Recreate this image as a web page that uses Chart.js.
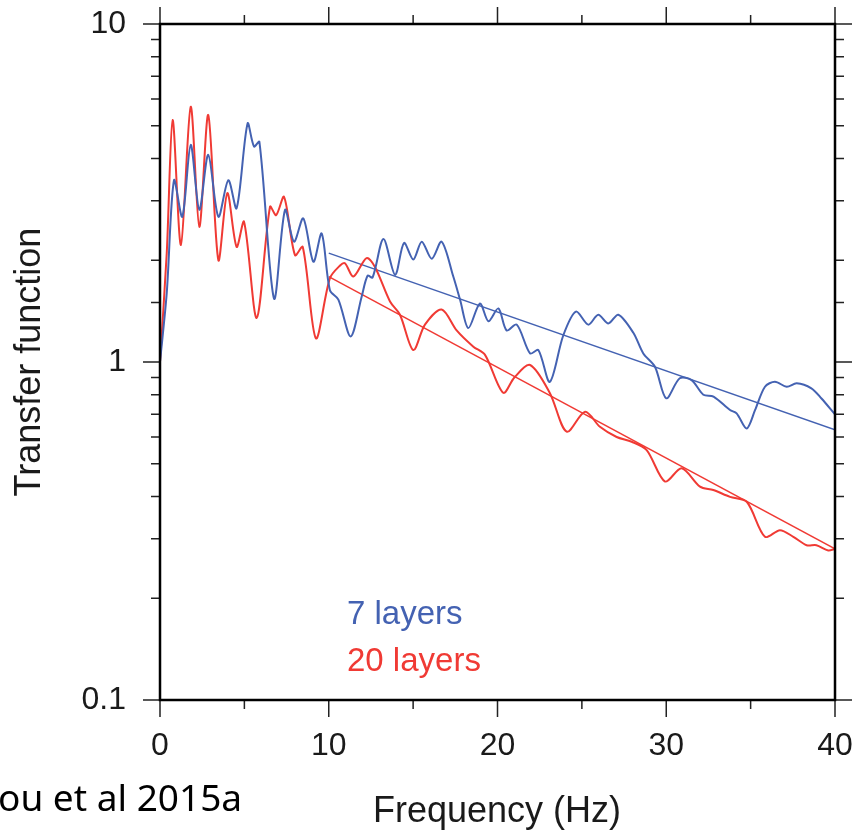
<!DOCTYPE html>
<html>
<head>
<meta charset="utf-8">
<script src="https://cdn.jsdelivr.net/npm/chart.js@4.4.0/dist/chart.umd.min.js"></script>
<style>
  body { margin: 0; background: #fff; }
  canvas { display: block; }
</style>
</head>
<body>
<canvas id="tfChart" width="852" height="836"></canvas>
<script>
// 7 layers model (blue)
var freq7 = [0, 0.4, 0.83, 1.32, 1.82, 2.33, 2.86, 3.46, 4.05, 4.54, 5.19, 5.57, 5.89, 6.76, 7.41, 7.94, 8.49, 9.09, 9.58,
    10.07, 10.57, 11.3, 11.95, 12.3, 12.6, 13.24, 13.93, 14.46, 15.01, 15.51, 16.1, 16.69, 17.38, 17.78, 18.27, 18.96,
    19.46, 20.05, 20.54, 21.14, 21.93, 22.42, 23.1, 23.9, 24.65, 25.38, 25.97, 26.57, 27.16, 28.05, 28.64, 29.33, 30.0,
    30.8, 31.5, 32.2, 32.8, 33.78, 34.17, 34.77, 35.26, 35.85, 36.44, 37.14, 37.73, 38.6, 39.2, 40];
var tf7 = [1.0, 1.6, 3.45, 2.69, 4.39, 2.82, 4.1, 2.69, 3.45, 2.85, 5.08, 4.34, 4.48, 1.54, 2.82, 2.27, 2.66, 1.98, 2.40,
    1.63, 1.53, 1.19, 1.56, 1.8, 1.78, 2.31, 1.81, 2.25, 2.01, 2.27, 2.02, 2.27, 1.79, 1.53, 1.26, 1.49,
    1.32, 1.44, 1.24, 1.29, 1.06, 1.085, 0.874, 1.2, 1.41, 1.29, 1.38, 1.30, 1.38, 1.22, 1.06, 0.968, 0.781,
    0.895, 0.884, 0.80, 0.79, 0.721, 0.705, 0.636, 0.72, 0.845, 0.874, 0.845, 0.865, 0.836, 0.78, 0.70];

// 20 layers model (red)
var freq20 = [0, 0.4, 0.75, 1.24, 1.82, 2.33, 2.86, 3.46, 3.99, 4.54, 4.98, 5.73, 6.52, 6.88, 7.35, 8.0, 8.46, 9.24,
    10.07, 10.67, 10.96, 11.46, 12.24, 12.74, 13.63, 14.22, 15.01, 15.7, 16.69, 17.58, 18.57, 19.26, 20.34, 21.0,
    21.93, 23.1, 24.1, 25.19, 26.07, 27.06, 27.95, 28.84, 29.93, 30.91, 32.0, 32.79, 33.78, 34.77, 35.85, 36.74,
    37.53, 38.32, 38.9, 39.6, 40];
var tf20 = [1.0, 2.1, 5.2, 2.22, 5.69, 2.51, 5.38, 2.0, 3.16, 2.19, 2.60, 1.35, 2.88, 2.72, 3.08, 2.07, 2.19, 1.175,
    1.77, 1.93, 1.96, 1.79, 2.03, 1.91, 1.51, 1.38, 1.085, 1.29, 1.43, 1.24, 1.11, 1.05, 0.811, 0.9,
    0.98, 0.81, 0.622, 0.713, 0.643, 0.60, 0.581, 0.549, 0.443, 0.485, 0.428, 0.418, 0.399, 0.386, 0.304, 0.318,
    0.304, 0.287, 0.287, 0.277, 0.28];

// straight-line fits (10-40 Hz)
var fitFreq = [10, 40];
var fit7 = [2.1, 0.63];
var fit20 = [1.79, 0.28];

// axis labels
var xLabels = [0, 10, 20, 30, 40];
var yLabels = [0.1, 1, 10];

var blue = 'rgb(68,98,178)';
var red = 'rgb(240,58,52)';
var helv = '"Liberation Sans", Arial, sans-serif';

function pts(xs, ys) {
    return xs.map(function(x, i){ return {x: x, y: ys[i]}; });
}

function isDecade(v) {
    var l = Math.log10(v);
    return Math.abs(l - Math.round(l)) < 1e-6;
}

// frame, outward ticks, tick labels, titles and legend text
var decor = {
    id: 'decor',
    afterDraw: function(chart) {
        var c = chart.ctx, a = chart.chartArea;
        var xs = chart.scales.x, ys = chart.scales.y;
        c.save();
        c.strokeStyle = '#222';
        c.lineWidth = 1.5;
        xs.ticks.forEach(function(t){
            var px = xs.getPixelForValue(t.value);
            var len = (t.value % 10 === 0) ? 17 : 9;
            c.beginPath();
            c.moveTo(px, a.bottom); c.lineTo(px, a.bottom + len);
            c.moveTo(px, a.top); c.lineTo(px, a.top - len);
            c.stroke();
        });
        ys.ticks.forEach(function(t){
            var py = ys.getPixelForValue(t.value);
            var len = isDecade(t.value) ? 17 : 9;
            c.beginPath();
            c.moveTo(a.left, py); c.lineTo(a.left - len, py);
            c.moveTo(a.right, py); c.lineTo(a.right + len, py);
            c.stroke();
        });
        c.strokeStyle = '#000';
        c.lineWidth = 2.5;
        c.strokeRect(a.left, a.top, a.right - a.left, a.bottom - a.top);

        c.fillStyle = '#1a1a1a';
        c.font = '32px ' + helv;
        c.textBaseline = 'middle';
        c.textAlign = 'center';
        xLabels.forEach(function(v){
            c.fillText(String(v), xs.getPixelForValue(v), 746);
        });
        c.textAlign = 'right';
        yLabels.forEach(function(v){
            c.fillText(String(v), 126, ys.getPixelForValue(v));
        });

        c.textAlign = 'center';
        c.font = '36px ' + helv;
        c.fillText('Frequency (Hz)', 497, 812);
        c.save();
        c.translate(30, 362);
        c.rotate(-Math.PI / 2);
        c.fillText('Transfer function', 0, 0);
        c.restore();

        c.textAlign = 'left';
        c.font = '33px ' + helv;
        c.fillStyle = blue;
        c.fillText('7 layers', 347, 615);
        c.fillStyle = red;
        c.fillText('20 layers', 347, 662);

        c.fillStyle = '#000';
        c.font = '37px "Noto Sans", sans-serif';
        c.fillText('ou et al 2015a', -2, 800);
        c.restore();
    }
};

var ctx = document.getElementById('tfChart');
var tfChart = new Chart(ctx, {
    type: 'line',
    data: {
        datasets: [
            { data: pts(freq7, tf7), borderColor: blue, borderWidth: 2, tension: 0.3 },
            { data: pts(freq20, tf20), borderColor: red, borderWidth: 2, tension: 0.3 },
            { data: pts(fitFreq, fit7), borderColor: blue, borderWidth: 1.5, tension: 0 },
            { data: pts(fitFreq, fit20), borderColor: red, borderWidth: 1.5, tension: 0 }
        ]
    },
    options: {
        responsive: false,
        animation: false,
        layout: { padding: { top: 24, right: 17, left: 0, bottom: 0 } },
        elements: { point: { radius: 0 } },
        plugins: { legend: { display: false }, tooltip: { enabled: false } },
        scales: {
            x: {
                type: 'linear', min: 0, max: 40,
                grid: { display: false },
                border: { display: false },
                ticks: { stepSize: 5, display: false },
                afterFit: function(s){ s.height = 136; }
            },
            y: {
                type: 'logarithmic', min: 0.1, max: 10,
                grid: { display: false },
                border: { display: false },
                ticks: { display: false, autoSkip: false },
                afterFit: function(s){ s.width = 160; }
            }
        }
    },
    plugins: [decor]
});
</script>
</body>
</html>
